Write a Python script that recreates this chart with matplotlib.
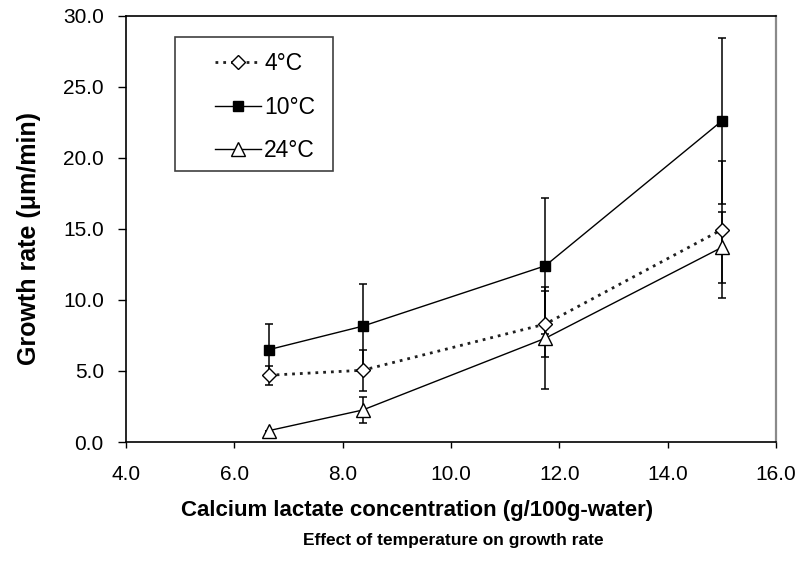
import numpy as np
import matplotlib.pyplot as plt
from matplotlib.patches import Rectangle

plt.rcParams['font.family'] = ['Liberation Sans', 'DejaVu Sans']

# calcium lactate concentration (g/100g-water)
conc = [6.64, 8.37, 11.74, 15.0]

# growth rate (um/min) and its error, per temperature
rate_4 = [4.7, 5.05, 8.3, 14.95]
err_4 = [0.66, 1.46, 2.3, 4.8]
rate_10 = [6.5, 8.15, 12.4, 22.6]
err_10 = [1.8, 2.95, 4.8, 5.85]
rate_24 = [0.8, 2.25, 7.3, 13.7]
err_24 = [0.0, 0.89, 3.6, 2.5]

labels = ['4°C', '10°C', '24°C']
xticks = [4.0, 6.0, 8.0, 10.0, 12.0, 14.0, 16.0]
yticks = [0.0, 5.0, 10.0, 15.0, 20.0, 25.0, 30.0]


def growth_plot():
    fig = plt.figure(figsize=(7.96, 5.76), dpi=100)
    ax = fig.add_axes([0.158, 0.2326, 0.817, 0.7401])

    eb = dict(fmt='none', ecolor='black', elinewidth=1.1, capsize=2.6, capthick=1.1, zorder=2)
    ax.errorbar(conc, rate_10, yerr=err_10, **eb)
    ax.errorbar(conc, rate_4, yerr=err_4, **eb)
    ax.errorbar(conc, rate_24, yerr=err_24, **eb)

    h4, = ax.plot(conc, rate_4, color='#202020', lw=2.0, ls=(0, (1, 1.8)),
                  marker='D', ms=6.8, mfc='white', mec='black', mew=1.0, zorder=3)
    h10, = ax.plot(conc, rate_10, color='black', lw=1.0, ls='-',
                   marker='s', ms=7.2, mfc='black', mec='black', zorder=3)
    h24, = ax.plot(conc, rate_24, color='black', lw=1.0, ls='-',
                   marker='^', ms=9.5, mfc='white', mec='black', mew=1.0, zorder=3)

    ax.set_xlim(4, 16)
    ax.set_ylim(0, 30)
    ax.set_xticks(xticks)
    ax.set_xticklabels(['%.1f' % v for v in xticks])
    ax.set_yticks(yticks)
    ax.set_yticklabels(['%.1f' % v for v in yticks])
    ax.tick_params(axis='y', direction='out', length=5.8, width=1.0, pad=10, labelsize=15)
    ax.tick_params(axis='x', direction='out', length=4.5, width=1.0, pad=12, labelsize=15)

    for side in ['left', 'bottom', 'top']:
        ax.spines[side].set_linewidth(1.2)
        ax.spines[side].set_color('black')
    ax.spines['right'].set_linewidth(1.6)
    ax.spines['right'].set_color('#8a8a8a')

    ax.set_ylabel('Growth rate (μm/min)', fontsize=18, fontweight='bold')
    ax.yaxis.set_label_coords(-0.131, 0.4785)
    ax.set_xlabel('Calcium lactate concentration (g/100g-water)', fontsize=16,
                  fontweight='bold')
    ax.xaxis.set_label_coords(0.448, -0.137)
    fig.text(453 / 796, 1 - 541 / 576, 'Effect of temperature on growth rate',
             ha='center', va='center', fontsize=12.5, fontweight='bold')

    # legend box
    ax.add_patch(Rectangle((0.0758, 0.6364), 0.243, 0.3143, transform=ax.transAxes,
                           fill=False, edgecolor='#404040', lw=1.2, zorder=4))
    ax.legend([h4, h10, h24], labels, loc='upper left', bbox_to_anchor=(0.1373, 0.9150),
              frameon=False, fontsize=16.5, handlelength=2.0, handletextpad=0.15,
              labelspacing=0.9, borderpad=0, borderaxespad=0)

    fig.savefig('out.png', dpi=100)


if __name__ == '__main__':
    growth_plot()
